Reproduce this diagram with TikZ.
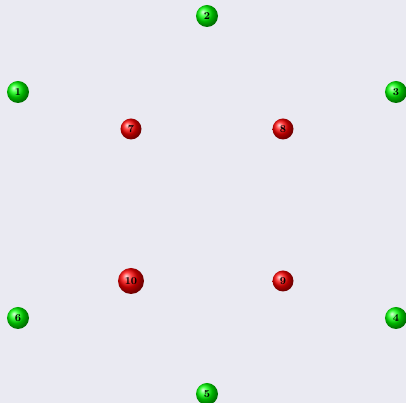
\documentclass[tikz,border=0pt]{standalone}
\usetikzlibrary{shadings}
\definecolor{canvas}{HTML}{EAEAF2}
\tikzset{every node/.style={font=\small\bfseries},
  outer/.style={circle,inner sep=0pt,minimum size=0.66cm,shading=ball,ball color=green},
  core/.style={circle,inner sep=0pt,minimum size=0.63cm,shading=ball,ball color=red},
  bigcore/.style={core,minimum size=0.78cm}}

\begin{document}
\begin{tikzpicture}[x=0.03cm,y=-0.03cm]
\fill[canvas](0,0)rectangle(406,403);
\useasboundingbox(0,0)rectangle(406,403);
\foreach \i/\x/\y in {1/18/92,2/207/16,3/396/92,4/396/318,5/207/394,6/18/318}{\node[outer](n\i)at(\x,\y){\i};}
\foreach \i/\x/\y in {7/131/129,8/283/129,9/283/281}{\node[core](n\i)at(\x,\y){\i};}
\node[bigcore](n10)at(131,281){10};
\end{tikzpicture}
\end{document}
